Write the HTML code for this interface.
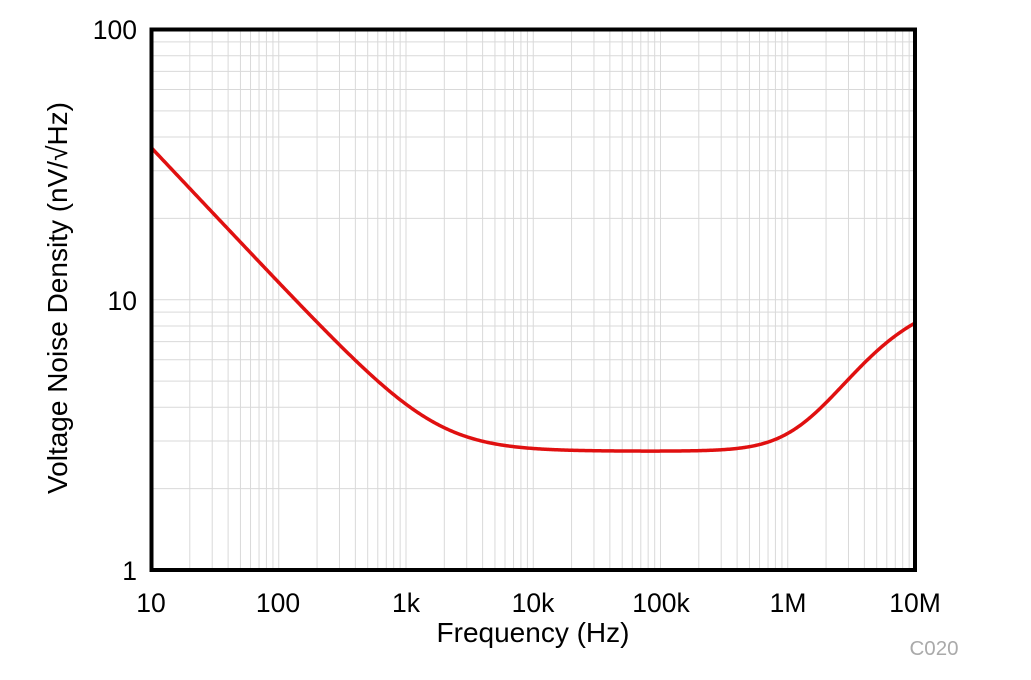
<!DOCTYPE html>
<html><head><meta charset="utf-8"><style>
html,body{margin:0;padding:0;background:#fff;}
svg{display:block;font-family:"Liberation Sans",sans-serif;}
</style></head><body>
<svg id="s" width="1031" height="680" xmlns="http://www.w3.org/2000/svg">
<g id="grid" stroke="#d9d9d9" stroke-width="1"></g>
<path id="curve" fill="none" stroke="#e01010" stroke-width="3.5" stroke-linejoin="round"/>
<rect x="151.5" y="29.5" width="763.5" height="540.5" fill="none" stroke="#000" stroke-width="4"/>
<g font-size="26.5" fill="#000">
<text x="137" y="39" text-anchor="end">100</text>
<text x="137" y="310" text-anchor="end">10</text>
<text x="137" y="580" text-anchor="end">1</text>
<text x="151" y="612" text-anchor="middle">10</text>
<text x="278" y="612" text-anchor="middle">100</text>
<text x="406" y="612" text-anchor="middle">1k</text>
<text x="533" y="612" text-anchor="middle">10k</text>
<text x="661" y="612" text-anchor="middle">100k</text>
<text x="788" y="612" text-anchor="middle">1M</text>
<text x="915" y="612" text-anchor="middle">10M</text>
</g>
<g font-size="28" fill="#000">
<text x="533" y="642" text-anchor="middle">Frequency (Hz)</text>
<text transform="translate(67,298) rotate(-90)" text-anchor="middle">Voltage Noise Density (nV/√Hz)</text>
</g>
<text x="934" y="655" font-size="20.5" fill="#aaa" text-anchor="middle">C020</text>
</svg>
<script>
var L=151.5,R=915,T=29.5,B=570;
var px=function(f){return L+(Math.log10(f)-1)*(R-L)/6;};
var py=function(v){return T+(2-Math.log10(v))*(B-T)/2;};
var g=document.getElementById('grid'),h='';
for(var d=1;d<7;d++)for(var m=1;m<10;m++){var x=px(m*Math.pow(10,d));if(x>L+2&&x<R-2)h+='<line x1="'+x+'" y1="'+T+'" x2="'+x+'" y2="'+B+'"/>';}
for(var d=0;d<2;d++)for(var m=1;m<10;m++){var y=py(m*Math.pow(10,d));if(y>T+2&&y<B-2)h+='<line x1="'+L+'" y1="'+y+'" x2="'+R+'" y2="'+y+'"/>';}
g.innerHTML=h;
var p='';
for(var i=0;i<=600;i++){var lf=1+6*i/600,f=Math.pow(10,lf);
var e1=Math.sqrt(13300/f);
var base=Math.pow(Math.pow(2.75,3)+Math.pow(e1,3),1/3);
var u=Math.pow(f/4e6,1.2),hf=10.3*u/(1+u);
var v=Math.sqrt(base*base+hf*hf);
p+=(i?'L':'M')+px(f).toFixed(2)+' '+py(v).toFixed(2);}
document.getElementById('curve').setAttribute('d',p);
</script>
</body></html>
